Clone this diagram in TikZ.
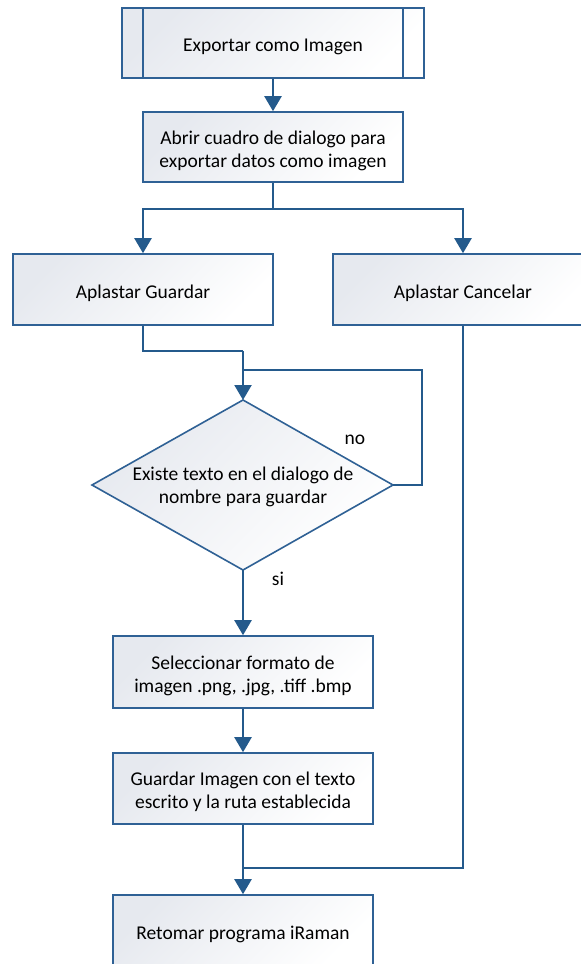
\documentclass[tikz,border=0pt]{standalone}
\usepackage{fontspec}
\setmainfont{Carlito}
\usetikzlibrary{arrows.meta,shapes.geometric}
\definecolor{flowline}{HTML}{245A8C}
\definecolor{boxedge}{HTML}{2F6195}
\definecolor{boxfill}{HTML}{E6E9EF}
\newcommand{\labelfont}{\fontsize{19.5}{23}\selectfont}
\tikzset{
  procbox/.style={draw=boxedge, line width=1.6pt, shading=axis, top color=boxfill,
    bottom color=white, shading angle=45, inner sep=0pt},
  boxtext/.style={font=\labelfont, align=center, inner sep=0pt, yshift=-3.5pt},
  flow/.style={draw=flowline, line width=2.2pt},
  flowarrow/.style={flow, -{Triangle[width=17pt,length=15pt]}},
  tag/.style={font=\labelfont}
}
\begin{document}
\begin{tikzpicture}[x=1pt,y=-1pt]
\clip (0,0) rectangle (581,964);
\fill[white] (0,0) rectangle (581,964);

% predefined process at the top
\node[procbox, minimum width=302pt, minimum height=70pt,
  label={[boxtext]center:Exportar como Imagen}] (start) at (273,43) {};
\draw[boxedge, line width=1.6pt] (143,8) -- (143,78) (403,8) -- (403,78);

\node[procbox, minimum width=260pt, minimum height=70pt,
  label={[boxtext]center:Abrir cuadro de dialogo para\\exportar datos como imagen}] (dialog) at (273,147) {};
\node[procbox, minimum width=260pt, minimum height=71pt,
  label={[boxtext]center:Aplastar Guardar}] (save) at (143,289.5) {};
\node[procbox, minimum width=260pt, minimum height=71pt,
  label={[boxtext]center:Aplastar Cancelar}] (cancel) at (463,289.5) {};

% decision diamond, drawn as a path for exact corners
\path[procbox] (243,400) -- (393,485) -- (243,570) -- (92,485) -- cycle;
\node[boxtext] (check) at (243,483)
  {Existe texto en el dialogo de\\nombre para guardar};
\coordinate (dtop) at (243,400);
\coordinate (dright) at (393,485);
\coordinate (dbot) at (243,570);

\node[procbox, minimum width=260pt, minimum height=72pt,
  label={[boxtext]center:Seleccionar formato de\\imagen .png, .jpg, .tiff .bmp}] (format) at (243,672) {};
\node[procbox, minimum width=260pt, minimum height=71pt,
  label={[boxtext]center:Guardar Imagen con el texto\\escrito y la ruta establecida}] (write) at (243,788.5) {};
\node[procbox, minimum width=260pt, minimum height=71pt,
  label={[boxtext]center:Retomar programa iRaman}] (resume) at (243,930.5) {};

% connectors
\draw[flowarrow] (start.south -| dialog.north) -- (dialog.north);
\draw[flow] (dialog.south) -- (273,209) coordinate (split);
\draw[flowarrow] (split) -| (save.north);
\draw[flowarrow] (split) -| (cancel.north);
\draw[flow] (save.south) |- (243,351) coordinate (join);
\draw[flowarrow] (join) -- (dtop);
\draw[flow] (dright) -| (422,370) -- (243,370);
\draw[flowarrow] (dbot) -- (format.north);
\draw[flowarrow] (format.south) -- (write.north);
\draw[flowarrow] (write.south) -- (resume.north);
\draw[flow] (cancel.south) |- (243,868);

\node[tag] (no) at (355,440) {no};
\node[tag] (si) at (278,579) {si};
\end{tikzpicture}
\end{document}
